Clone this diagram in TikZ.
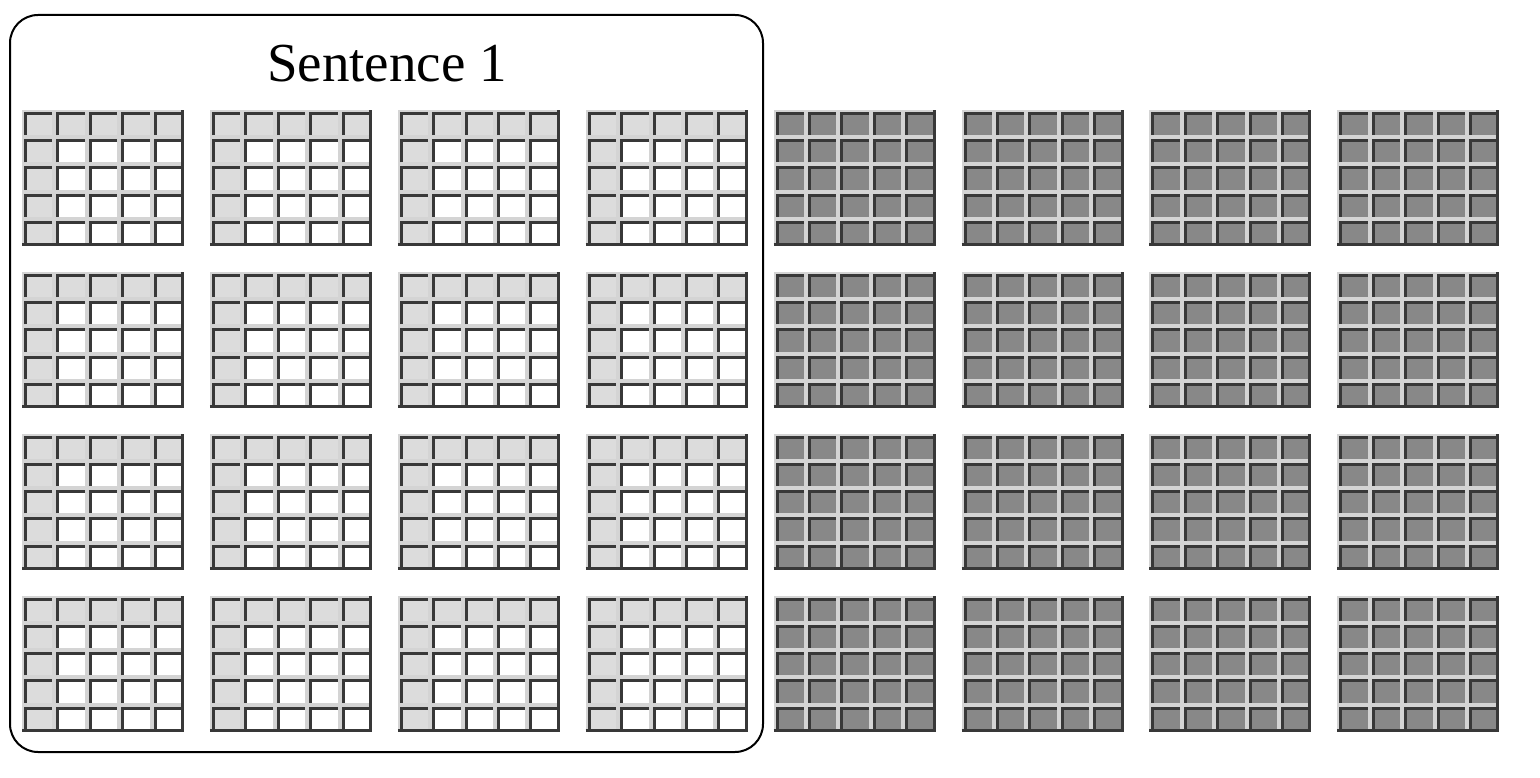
\documentclass[tikz,border=0pt]{standalone}
\usepackage{fontspec}
\setmainfont{Liberation Serif}
\definecolor{cell0}{HTML}{FFFFFF}
\definecolor{cell1}{HTML}{DCDCDC}
\definecolor{cell2}{HTML}{888888}
\definecolor{rimgray}{HTML}{D4D4D4}
\definecolor{linegray}{HTML}{383838}

\begin{document}
\begin{tikzpicture}[x=1pt,y=-1pt,
  cellrim/.style={fill=rimgray},
  cellline/.style={draw=linegray,line width=3pt}]
\useasboundingbox (0,0) rectangle (1540,778);
\draw[line width=2pt,rounded corners=28pt] (10,15) rectangle (763,752);
\node[font=\fontsize{55}{60}\selectfont] (sent) at (387,64) {Sentence 1};
\foreach \gc in {0,...,7}
 \foreach \gr in {0,...,3}{
  \pgfmathsetmacro\gx{22+187.9*\gc}
  \pgfmathsetmacro\gy{110+161.9*\gr}
  \foreach \cc in {0,...,4}
   \foreach \cr in {0,...,4}{
    \pgfmathtruncatemacro\kind{\gc>3 ? 2 : ((\cc==0 || \cr==0) ? 1 : 0)}
    \pgfmathsetmacro\cx{\gx+32.4*\cc}
    \pgfmathsetmacro\cy{\gy+27.2*\cr}
    \fill[cellrim] (\cx,\cy) rectangle ++(32.4,27.2);
    \fill[cell\kind] (\cx+2,\cy+2) rectangle ++(28.4,23.2);
    \draw[cellline] (\cx+3.5,\cy+25.2) |- (\cx+30.4,\cy+3.5);
   }
  % dark edge along bottom and right of each grid
  \draw[cellline] (\gx,\gy+134.5) -| (\gx+160.5,\gy);
 }
\end{tikzpicture}
\end{document}
